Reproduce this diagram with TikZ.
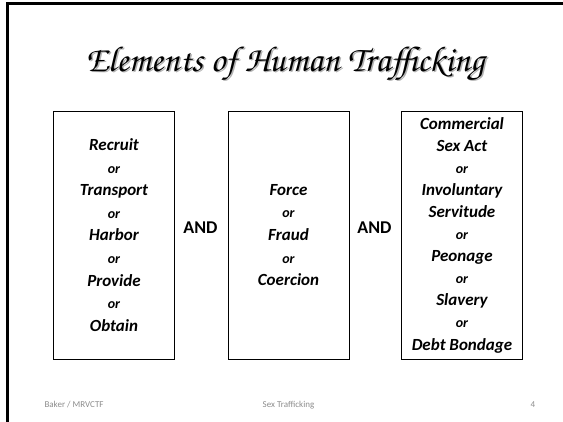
\documentclass[tikz,border=0pt]{standalone}
\usepackage{fontspec}
\setmainfont{Carlito}
\newfontfamily\titlefont{texgyrechorus-mediumitalic.otf}
\usepackage{tikz}
\usetikzlibrary{positioning}

\definecolor{footgray}{RGB}{140,140,140}
\newcommand{\orw}{{\fontsize{14}{22}\selectfont or}}

\begin{document}
\begin{tikzpicture}[x=1pt,y=1pt]
    \tikzstyle{element}=[draw,thick,text=black,align=center,minimum width=121pt,minimum height=248pt,inner sep=0pt]
    \tikzstyle{conj}=[text=black,font=\bfseries\fontsize{18}{20}\selectfont]
    \tikzstyle{footer}=[text=footgray,font=\fontsize{9}{10}\selectfont]

    \useasboundingbox (0,0) rectangle (563,422);
    \draw[line width=3pt] (7.5,0) |- (563,418.5);

    \node[text=black!30,font=\titlefont\fontsize{36}{40}\selectfont] (shadow) at (286.5,357) {Elements of Human Trafficking};
    \node[font=\titlefont\fontsize{36}{40}\selectfont] (title) at (285,358.5) {Elements of Human Trafficking};

    \node[element,font=\bfseries\itshape\fontsize{17}{22.6}\selectfont] (acts) at (114,187)
        {Recruit\\\orw\\Transport\\\orw\\Harbor\\\orw\\Provide\\\orw\\Obtain};
    \node[element,font=\bfseries\itshape\fontsize{17}{22.6}\selectfont] (means) at (288.5,187)
        {Force\\\orw\\Fraud\\\orw\\Coercion};
    \node[element,font=\bfseries\itshape\fontsize{17}{22.1}\selectfont] (purpose) at (462,187)
        {Commercial\\Sex Act\\\orw\\Involuntary\\Servitude\\\orw\\Peonage\\\orw\\Slavery\\\orw\\Debt Bondage};

    \node[conj] (and1) at (200.5,194) {AND};
    \node[conj] (and2) at (374.5,194) {AND};

    \node[footer,anchor=west] (author) at (41,17) {Baker / MRVCTF};
    \node[footer] (topic) at (288.5,17) {Sex Trafficking};
    \node[footer] (page) at (533,17) {4};
\end{tikzpicture}
\end{document}
